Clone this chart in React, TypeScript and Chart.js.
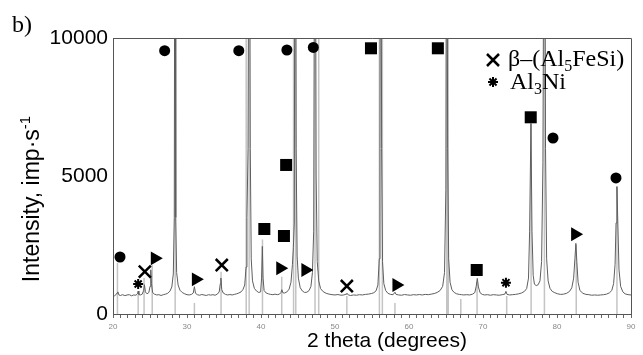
import React, { useEffect, useRef } from 'react';
import { Chart, registerables } from 'chart.js';
Chart.register(...registerables);

// XRD pattern (2θ in degrees, intensity in imp/s)
const twoTheta = [
  20.0, 20.2, 20.4, 20.55, 20.65, 20.8, 21.0, 21.3, 21.6, 21.9, 22.2, 22.5, 22.8, 23.1, 23.3, 23.4, 23.5, 23.7, 23.95, 24.15,
  24.25, 24.38, 24.6, 24.85, 25.0, 25.1, 25.2, 25.35, 25.6, 25.9, 26.2, 26.5, 26.8, 27.1, 27.4, 27.7, 27.95, 28.15, 28.28, 28.38,
  28.48, 28.6, 28.8, 29.05, 29.35, 29.7, 30.0, 30.3, 30.6, 30.85, 31.0, 31.15, 31.4, 31.7, 32.0, 32.3, 32.6, 32.9, 33.2, 33.5,
  33.8, 34.1, 34.35, 34.5, 34.58, 34.7, 34.9, 35.2, 35.5, 35.8, 36.1, 36.4, 36.7, 37.0, 37.3, 37.55, 37.8, 37.98, 38.1, 38.25,
  38.42, 38.55, 38.68, 38.85, 39.1, 39.4, 39.7, 39.95, 40.08, 40.18, 40.28, 40.42, 40.7, 41.0, 41.3, 41.6, 41.9, 42.2, 42.5, 42.7,
  42.82, 42.95, 43.2, 43.5, 43.8, 44.05, 44.25, 44.37, 44.5, 44.62, 44.75, 44.88, 45.05, 45.3, 45.6, 45.9, 46.2, 46.5, 46.75, 46.95,
  47.12, 47.3, 47.45, 47.6, 47.8, 48.05, 48.4, 48.8, 49.2, 49.6, 50.0, 50.4, 50.8, 51.2, 51.5, 51.62, 51.8, 52.1, 52.5, 52.9,
  53.3, 53.7, 54.1, 54.5, 54.9, 55.25, 55.55, 55.8, 55.98, 56.08, 56.17, 56.3, 56.42, 56.6, 56.85, 57.15, 57.5, 57.85, 58.1, 58.25,
  58.6, 59.0, 59.4, 59.8, 60.2, 60.6, 61.0, 61.4, 61.8, 62.2, 62.6, 63.0, 63.4, 63.8, 64.2, 64.55, 64.8, 64.98, 65.1, 65.22,
  65.36, 65.55, 65.8, 66.1, 66.45, 66.8, 67.1, 67.4, 67.8, 68.2, 68.6, 68.9, 69.08, 69.23, 69.38, 69.6, 69.9, 70.2, 70.6, 71.0,
  71.4, 71.8, 72.2, 72.6, 72.95, 73.1, 73.25, 73.6, 74.0, 74.4, 74.8, 75.2, 75.6, 75.9, 76.15, 76.3, 76.48, 76.62, 76.78, 76.95,
  77.2, 77.45, 77.7, 77.92, 78.1, 78.3, 78.45, 78.6, 78.8, 79.05, 79.35, 79.7, 80.1, 80.5, 80.9, 81.3, 81.7, 82.0, 82.25, 82.42,
  82.55, 82.68, 82.85, 83.1, 83.5, 83.9, 84.3, 84.7, 85.1, 85.5, 85.9, 86.3, 86.7, 87.1, 87.4, 87.65, 87.85, 87.98, 88.1, 88.22,
  88.38, 88.6, 88.9, 89.2, 89.6, 90.0,
];
const intensity = [
  690, 660, 700, 760, 800, 690, 670, 700, 665, 690, 700, 660, 690, 680, 730, 830, 700, 690, 720, 860,
  1060, 800, 730, 780, 1000, 1600, 1100, 780, 720, 690, 700, 670, 700, 720, 750, 830, 980, 1450, 3500, 22000,
  3500, 1500, 1050, 860, 780, 730, 700, 690, 710, 760, 990, 750, 700, 680, 705, 690, 670, 700, 685, 700,
  680, 720, 800, 1100, 1300, 880, 760, 710, 690, 705, 690, 710, 730, 760, 800, 880, 1050, 1700, 3500, 6000,
  22000, 6000, 2000, 1200, 930, 830, 780, 800, 1300, 2450, 1300, 850, 760, 730, 710, 700, 720, 700, 720, 780,
  880, 770, 760, 800, 900, 1150, 1800, 2400, 3300, 22000, 6000, 2100, 1300, 950, 830, 780, 790, 850, 1000, 1500,
  3000, 22000, 5000, 1900, 1200, 920, 810, 750, 720, 700, 690, 705, 680, 690, 720, 750, 690, 670, 690, 680,
  700, 690, 710, 720, 740, 770, 840, 1050, 2000, 6000, 22000, 6000, 1900, 1100, 850, 750, 710, 700, 790, 710,
  690, 680, 705, 690, 680, 700, 690, 705, 690, 710, 700, 720, 740, 780, 850, 1000, 1500, 4500, 22000, 6000,
  2000, 1150, 880, 780, 730, 710, 700, 690, 700, 690, 720, 780, 1000, 1290, 980, 770, 710, 690, 700, 680,
  700, 690, 680, 700, 720, 820, 710, 690, 700, 710, 730, 760, 820, 920, 1300, 3000, 6900, 3000, 1400, 1080,
  1030, 1060, 1200, 1900, 5500, 22000, 6000, 2000, 1200, 930, 820, 770, 730, 710, 720, 750, 820, 950, 1300, 2000,
  2560, 1900, 1150, 850, 750, 710, 700, 680, 690, 680, 690, 700, 720, 770, 850, 1100, 1800, 3300, 4620, 3300,
  1600, 1000, 800, 730, 700, 690,
];

// Reference stick lines
const stickPos = [20.6, 23.4, 24.2, 25.3, 28.4, 31.0, 34.6, 38.0, 38.4, 40.2, 42.8, 44.4, 44.7, 47.3, 47.8, 51.6, 56.0, 56.4, 58.1, 65.1, 65.3, 67.0, 69.2, 73.2, 76.5, 78.3, 82.6, 88.1];
const stickHeight = [1850, 700, 1300, 1770, 10500, 400, 1530, 10500, 10500, 2700, 1350, 10500, 10500, 10500, 10500, 650, 10500, 10500, 400, 10500, 10500, 540, 1170, 650, 6900, 10500, 2500, 4600];

// Phase markers
const circleX = [20.95, 26.98, 37.0, 43.5, 47.07, 79.46, 87.97];
const circleY = [2065, 9540, 9540, 9565, 9660, 6377, 4930];
const squareX = [40.45, 43.1, 43.4, 54.86, 63.9, 69.15, 76.45];
const squareY = [3080, 2826, 5400, 9627, 9627, 1594, 7127];
const triangleX = [25.65, 31.2, 42.6, 46.0, 58.3, 82.45];
const triangleY = [2018, 1257, 1656, 1594, 1051, 2888];
const crossX = [24.3, 34.7, 51.6];
const crossY = [1533, 1775, 1014];
const starX = [23.4, 73.1];
const starY = [1087, 1134];

const yTicks = [0, 5000, 10000];
const xLabelStep = 10;

const SANS = '"Liberation Sans", Arial, Helvetica, sans-serif';
const SERIF = '"Liberation Serif", "Times New Roman", Times, serif';

function pts(xs: number[], ys: number[]) {
  return xs.map((x, i) => ({ x, y: ys[i] }));
}

function stickData() {
  const out: any[] = [];
  stickPos.forEach((p, i) => {
    out.push({ x: p, y: 0 });
    out.push({ x: p, y: stickHeight[i] });
    out.push({ x: p, y: null });
  });
  return out;
}

function drawRich(ctx: CanvasRenderingContext2D, parts: { t: string; sub?: boolean; sup?: boolean }[], x: number, y: number, size: number, family: string) {
  let cx = x;
  for (const p of parts) {
    const s = p.sub || p.sup ? Math.round(size * 0.65) : size;
    ctx.font = `${s}px ${family}`;
    const dy = p.sub ? size * 0.22 : p.sup ? -size * 0.38 : 0;
    ctx.fillText(p.t, cx, y + dy);
    cx += ctx.measureText(p.t).width;
  }
  return cx - x;
}

function measureRich(ctx: CanvasRenderingContext2D, parts: { t: string; sub?: boolean; sup?: boolean }[], size: number, family: string) {
  let w = 0;
  for (const p of parts) {
    const s = p.sub || p.sup ? Math.round(size * 0.65) : size;
    ctx.font = `${s}px ${family}`;
    w += ctx.measureText(p.t).width;
  }
  return w;
}

const decorPlugin = {
  id: 'decor',
  afterDraw(chart: any) {
    const { ctx, chartArea: a } = chart;
    ctx.save();
    // top & right frame
    ctx.strokeStyle = '#555';
    ctx.lineWidth = 1;
    ctx.beginPath();
    ctx.moveTo(a.left, a.top + 0.5);
    ctx.lineTo(a.right + 0.5, a.top + 0.5);
    ctx.lineTo(a.right + 0.5, a.bottom);
    ctx.stroke();

    ctx.fillStyle = '#000';
    ctx.textBaseline = 'alphabetic';
    ctx.textAlign = 'left';
    // panel label
    ctx.font = `24px ${SERIF}`;
    ctx.fillText('b)', 12, 32);

    // x title
    ctx.font = `21px ${SANS}`;
    ctx.textAlign = 'center';
    ctx.fillText('2 theta (degrees)', 387, 347);

    // y title
    ctx.textAlign = 'left';
    const yParts = [{ t: 'Intensity, imp·s' }, { t: '-1', sup: true }];
    const yw = measureRich(ctx, yParts, 23, SANS);
    ctx.save();
    ctx.translate(39, 199);
    ctx.rotate(-Math.PI / 2);
    drawRich(ctx, yParts, -yw / 2, 0, 23, SANS);
    ctx.restore();

    // legend
    ctx.strokeStyle = '#000';
    ctx.lineWidth = 2.5;
    ctx.beginPath();
    ctx.moveTo(487, 54); ctx.lineTo(499, 66);
    ctx.moveTo(499, 54); ctx.lineTo(487, 66);
    ctx.stroke();
    ctx.lineWidth = 2;
    const sx = 493, sy = 82, r = 5;
    ctx.beginPath();
    for (let k = 0; k < 4; k++) {
      const ang = (k * Math.PI) / 4;
      ctx.moveTo(sx - Math.cos(ang) * r, sy - Math.sin(ang) * r);
      ctx.lineTo(sx + Math.cos(ang) * r, sy + Math.sin(ang) * r);
    }
    ctx.stroke();
    ctx.fillStyle = '#000';
    drawRich(ctx, [{ t: 'β–(Al' }, { t: '5', sub: true }, { t: 'FeSi)' }], 508, 66, 24, SERIF);
    drawRich(ctx, [{ t: 'Al' }, { t: '3', sub: true }, { t: 'Ni' }], 510, 89, 24, SERIF);
    ctx.restore();
  },
};

export default function App() {
  const ref = useRef<HTMLCanvasElement>(null);
  useEffect(() => {
    const markerBase = { showLine: false, borderColor: '#000', backgroundColor: '#000', order: 0 };
    const chart = new Chart(ref.current as HTMLCanvasElement, {
      type: 'line',
      data: {
        datasets: [
          { ...markerBase, label: 'circle', data: pts(circleX, circleY), pointStyle: 'circle', pointRadius: 5.5, pointBorderWidth: 0 },
          { ...markerBase, label: 'square', data: pts(squareX, squareY), pointStyle: 'rect', pointRadius: 8.5, pointBorderWidth: 0 },
          { ...markerBase, label: 'triangle', data: pts(triangleX, triangleY), pointStyle: 'triangle', pointRotation: 90, pointRadius: 8, pointBorderWidth: 0 },
          { ...markerBase, label: 'cross', data: pts(crossX, crossY), pointStyle: 'crossRot', pointRadius: 8.5, pointBorderWidth: 2.5 },
          { ...markerBase, label: 'star', data: pts(starX, starY), pointStyle: 'star', pointRadius: 5, pointBorderWidth: 2 },
          { label: 'pattern', data: pts(twoTheta, intensity), borderColor: '#5e5e5e', borderWidth: 1, pointRadius: 0, tension: 0, order: 1 },
          { label: 'sticks', data: stickData(), borderColor: '#c4c4c4', borderWidth: 1.5, pointRadius: 0, spanGaps: false, order: 2 },
        ] as any,
      },
      options: {
        animation: false,
        responsive: false,
        maintainAspectRatio: false,
        layout: { padding: { top: 38, right: 12, left: 0, bottom: 0 } },
        plugins: { legend: { display: false }, tooltip: { enabled: false } },
        scales: {
          x: {
            type: 'linear',
            min: 20,
            max: 90,
            afterFit: (s: any) => { s.height = 41; },
            grid: { display: true, drawOnChartArea: false, drawTicks: true, tickLength: 4, color: '#666' },
            border: { display: true, color: '#555', width: 1 },
            ticks: {
              stepSize: 1,
              autoSkip: false,
              maxRotation: 0,
              padding: 4,
              color: '#888',
              font: { size: 8, family: SANS },
              callback: (v: any) => (Number(v) % xLabelStep === 0 ? String(v) : ''),
            },
          },
          y: {
            type: 'linear',
            min: 0,
            max: 10000,
            afterFit: (s: any) => { s.width = 113; },
            afterBuildTicks: (s: any) => { s.ticks = yTicks.map((v) => ({ value: v })); },
            grid: { display: false, drawTicks: false },
            border: { display: true, color: '#555', width: 1 },
            ticks: {
              padding: 5,
              color: '#000',
              font: { size: 21, family: SANS },
              callback: (v: any) => String(v),
            },
          },
        },
      } as any,
      plugins: [decorPlugin],
    });
    return () => chart.destroy();
  }, []);
  return (
    <div style={{ position: 'fixed', left: 0, top: 0, width: 643, height: 355, background: '#fff' }}>
      <canvas ref={ref} width={643} height={355} style={{ display: 'block', width: 643, height: 355 }} />
    </div>
  );
}
